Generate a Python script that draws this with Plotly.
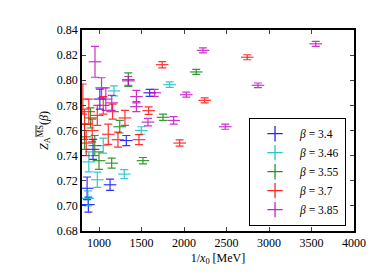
import plotly.graph_objects as go

# beta = 3.4
x_b34 = [860, 875, 930, 1010, 1130, 1321, 1596]
y_b34 = [0.714, 0.701, 0.745, 0.785, 0.7168, 0.752, 0.790]
e_b34 = [0.009, 0.006, 0.008, 0.008, 0.0045, 0.004, 0.0028]

# beta = 3.46
x_b346 = [870, 880, 980, 1050, 1176, 1297, 1497, 1831]
y_b346 = [0.706, 0.735, 0.7208, 0.748, 0.7915, 0.7253, 0.760, 0.7965]
e_b346 = [0.006, 0.008, 0.006, 0.006, 0.004, 0.0035, 0.003, 0.0022]

# beta = 3.55
x_b355 = [830, 900, 950, 1000, 1149, 1244, 1345, 1517, 1753, 2144]
y_b355 = [0.755, 0.770, 0.748, 0.736, 0.734, 0.763, 0.8005, 0.736, 0.7705, 0.8066]
e_b355 = [0.010, 0.008, 0.008, 0.007, 0.004, 0.005, 0.0053, 0.0025, 0.0025, 0.002]

# beta = 3.7
x_b37 = [810, 830, 850, 880, 920, 980, 1050, 1109, 1160, 1223, 1305, 1470, 1584, 1744, 1949, 2243, 2744]
y_b37 = [0.785, 0.765, 0.750, 0.775, 0.760, 0.772, 0.780, 0.757, 0.775, 0.7527, 0.770, 0.7527, 0.7758, 0.8124, 0.750, 0.784, 0.8183]
e_b37 = [0.012, 0.012, 0.010, 0.010, 0.009, 0.008, 0.007, 0.008, 0.006, 0.006, 0.006, 0.004, 0.003, 0.0025, 0.0025, 0.002, 0.002]

# beta = 3.85
x_b385 = [953, 1030, 1080, 1150, 1345, 1440, 1440, 1576, 1655, 1878, 2027, 2223, 2485, 2870, 3550]
y_b385 = [0.8147, 0.794, 0.785, 0.782, 0.7995, 0.787, 0.779, 0.7667, 0.790, 0.768, 0.7885, 0.8238, 0.763, 0.796, 0.829]
e_b385 = [0.0123, 0.008, 0.009, 0.006, 0.0035, 0.005, 0.004, 0.003, 0.0028, 0.003, 0.002, 0.002, 0.002, 0.0018, 0.002]

labels = ["3.4", "3.46", "3.55", "3.7", "3.85"]
colors = ["#0000ff", "#00bfbf", "#008000", "#ff0000", "#bf00bf"]
series = [(x_b34, y_b34, e_b34), (x_b346, y_b346, e_b346), (x_b355, y_b355, e_b355),
          (x_b37, y_b37, e_b37), (x_b385, y_b385, e_b385)]

fig = go.Figure()
for (xs, ys, es), lab, col in zip(series, labels, colors):
    fig.add_trace(go.Scatter(
        x=xs, y=ys, mode="markers", name="<i>β</i> = " + lab,
        opacity=0.8, showlegend=False, legendgroup=lab,
        marker=dict(symbol="line-ew", size=9, color=col, line=dict(color=col, width=1.2)),
        error_y=dict(type="data", array=es, visible=True, color=col, thickness=1.2, width=4),
    ))
# legend entries (error-bar-like glyph)
for lab, col in zip(labels, colors):
    fig.add_trace(go.Scatter(
        x=[None], y=[None], mode="markers", name="<i>β</i> = " + lab,
        legendgroup=lab, opacity=0.85,
        marker=dict(symbol="cross-thin", size=11, color=col, line=dict(color=col, width=1.3)),
    ))

font = "Liberation Serif, DejaVu Serif, serif"
fig.update_layout(
    width=374, height=280,
    margin=dict(l=74, r=28, t=22, b=57),
    paper_bgcolor="white", plot_bgcolor="white",
    font=dict(family=font, size=12, color="black"),
    showlegend=True,
    legend=dict(x=0.97, y=0.025, xanchor="right", yanchor="bottom",
                bordercolor="black", borderwidth=1.2, bgcolor="white",
                font=dict(size=11.5), tracegroupgap=0, itemwidth=40),
)
fig.update_xaxes(range=[800, 4000], tickvals=[1000, 1500, 2000, 2500, 3000, 3500, 4000],
                 ticks="inside", ticklen=4, mirror="allticks", showline=True,
                 linecolor="black", linewidth=1.5, showgrid=False, zeroline=False,
                 title=dict(text="1/<i>x</i><sub>0</sub> [MeV]", standoff=4, font=dict(size=12)))
fig.update_yaxes(range=[0.68, 0.84], tickvals=[0.68, 0.70, 0.72, 0.74, 0.76, 0.78, 0.80, 0.82, 0.84],
                 tickformat=".2f",
                 ticks="inside", ticklen=4, mirror="allticks", showline=True,
                 linecolor="black", linewidth=1.5, showgrid=False, zeroline=False,
                 title=dict(text="<i>Z</i><sub>A</sub><sup><span style=\"text-decoration:overline\">MS</span></sup>(<i>β</i>)",
                            standoff=6, font=dict(size=12)))
fig.write_html("out.html")
